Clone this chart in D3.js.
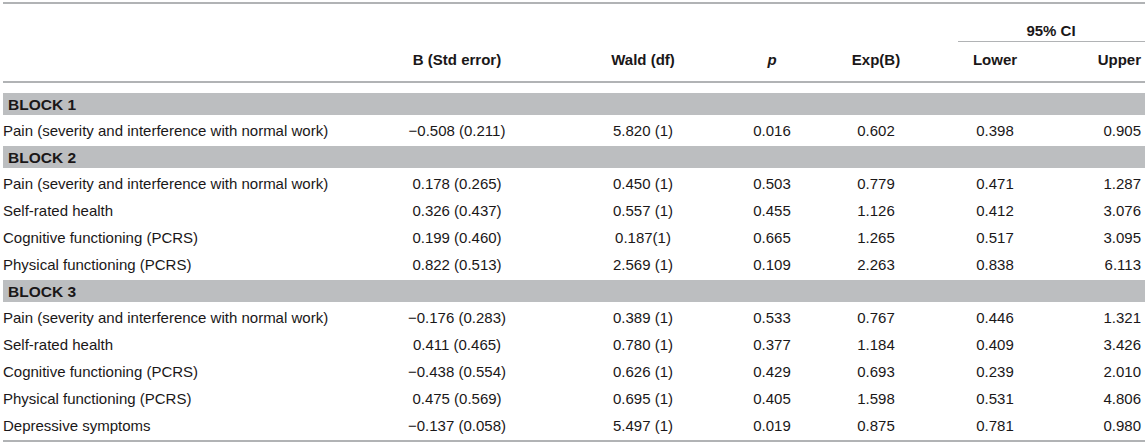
<!DOCTYPE html>
<html>
<head>
<meta charset="utf-8">
<script src="https://cdn.jsdelivr.net/npm/d3@7"></script>
<style>
  html, body { margin: 0; padding: 0; background: #fff; }
  svg { display: block; }
  text { font-family: "Liberation Sans", Arial, Helvetica, sans-serif; fill: #1a1718; }
</style>
</head>
<body>
<svg id="chart" width="1145" height="447"></svg>
<script>
// ---- data ----
const blockNames = ["BLOCK 1", "BLOCK 2", "BLOCK 3"];
const rowBlock = [0, 1, 1, 1, 1, 2, 2, 2, 2, 2];
const variables = [
  "Pain (severity and interference with normal work)",
  "Pain (severity and interference with normal work)",
  "Self-rated health",
  "Cognitive functioning (PCRS)",
  "Physical functioning (PCRS)",
  "Pain (severity and interference with normal work)",
  "Self-rated health",
  "Cognitive functioning (PCRS)",
  "Physical functioning (PCRS)",
  "Depressive symptoms"
];
const bStdError = ["\u22120.508 (0.211)", "0.178 (0.265)", "0.326 (0.437)", "0.199 (0.460)", "0.822 (0.513)",
  "\u22120.176 (0.283)", "0.411 (0.465)", "\u22120.438 (0.554)", "0.475 (0.569)", "\u22120.137 (0.058)"];
const waldDf = ["5.820 (1)", "0.450 (1)", "0.557 (1)", "0.187(1)", "2.569 (1)",
  "0.389 (1)", "0.780 (1)", "0.626 (1)", "0.695 (1)", "5.497 (1)"];
const pValues = ["0.016", "0.503", "0.455", "0.665", "0.109", "0.533", "0.377", "0.429", "0.405", "0.019"];
const expB = ["0.602", "0.779", "1.126", "1.265", "2.263", "0.767", "1.184", "0.693", "1.598", "0.875"];
const ciLower = ["0.398", "0.471", "0.412", "0.517", "0.838", "0.446", "0.409", "0.239", "0.531", "0.781"];
const ciUpper = ["0.905", "1.287", "3.076", "3.095", "6.113", "1.321", "3.426", "2.010", "4.806", "0.980"];
const columnHeaders = ["B (Std error)", "Wald (df)", "p", "Exp(B)", "Lower", "Upper"];
const groupHeader = "95% CI";

// ---- layout ----
const W = 1145, left = 3;
const fontSize = 15;
const colX = d3.scaleOrdinal().domain(columnHeaders).range([457, 643, 772, 876, 995, 1141]);
const colAnchor = d3.scaleOrdinal().domain(columnHeaders).range(["middle","middle","middle","middle","middle","end"]);
const columns = [bStdError, waldDf, pValues, expB, ciLower, ciUpper];

const svg = d3.select("#chart");
const lineColor = "#b1b3b5";
const bandColor = "#bcbec0";

// top rule
svg.append("rect").attr("x", left).attr("y", 2).attr("width", W - left).attr("height", 2).attr("fill", lineColor);
// group header
svg.append("text").attr("x", 1051).attr("y", 30).attr("text-anchor", "middle")
  .attr("dominant-baseline", "central").attr("font-weight", "bold").attr("font-size", fontSize).text(groupHeader);
svg.append("rect").attr("x", 958).attr("y", 41).attr("width", W - 958).attr("height", 1).attr("fill", lineColor);
// column headers
svg.selectAll("text.colh").data(columnHeaders).join("text")
  .attr("class", "colh")
  .attr("x", d => colX(d)).attr("y", 59)
  .attr("text-anchor", d => colAnchor(d))
  .attr("dominant-baseline", "central")
  .attr("font-weight", "bold").attr("font-size", fontSize)
  .attr("font-style", d => d === "p" ? "italic" : null)
  .text(d => d);
// header rule
svg.append("rect").attr("x", left).attr("y", 81).attr("width", W - left).attr("height", 2).attr("fill", lineColor);

// body layout
const bandH = 22, rowH = 27, gap = 2;
let y = 93;
const items = [];
rowBlock.forEach((b, i) => {
  if (i === 0 || rowBlock[i - 1] !== b) {
    items.push({ type: "band", y: y, label: blockNames[b] });
    y += bandH + gap;
  }
  items.push({ type: "row", y: y, index: i });
  y += rowH;
  if (i === rowBlock.length - 1 || rowBlock[i + 1] !== b) y += gap;
});
const bottomY = y - gap;

const bands = items.filter(d => d.type === "band");
svg.selectAll("rect.band").data(bands).join("rect")
  .attr("class", "band")
  .attr("x", left).attr("y", d => d.y).attr("width", W - left).attr("height", bandH)
  .attr("fill", bandColor);
svg.selectAll("text.band").data(bands).join("text")
  .attr("class", "band")
  .attr("x", 8).attr("y", d => d.y + bandH / 2 + 0.5)
  .attr("dominant-baseline", "central")
  .attr("font-weight", "bold").attr("font-size", fontSize + 0.5)
  .text(d => d.label);

const rows = items.filter(d => d.type === "row");
const rowG = svg.selectAll("g.row").data(rows).join("g")
  .attr("class", "row")
  .attr("transform", d => `translate(0,${d.y + rowH / 2})`);
rowG.append("text")
  .attr("x", left).attr("dominant-baseline", "central").attr("font-size", fontSize)
  .text(d => variables[d.index]);
columnHeaders.forEach((h, c) => {
  rowG.append("text")
    .attr("x", colX(h)).attr("text-anchor", colAnchor(h))
    .attr("dominant-baseline", "central").attr("font-size", fontSize)
    .text(d => columns[c][d.index]);
});

// bottom rule
svg.append("rect").attr("x", left).attr("y", bottomY + 1).attr("width", W - left).attr("height", 2).attr("fill", lineColor);
</script>
</body>
</html>
